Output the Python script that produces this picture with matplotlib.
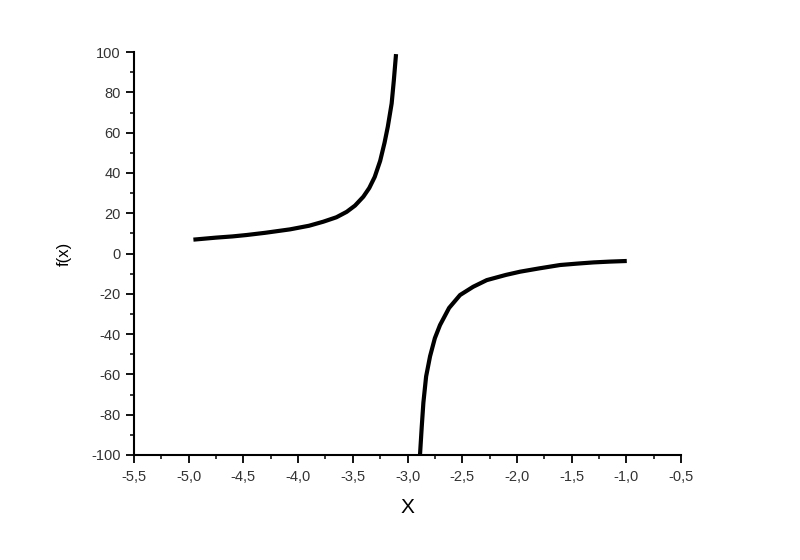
import matplotlib.pyplot as plt
from matplotlib.ticker import MultipleLocator, FuncFormatter

plt.rcParams['font.family'] = ['Liberation Sans', 'DejaVu Sans']

# valores
x_left = [-4.957, -4.75, -4.6, -4.47, -4.3, -4.074, -3.9, -3.77, -3.65, -3.556,
          -3.48, -3.404, -3.35, -3.3, -3.25, -3.21, -3.18, -3.145, -3.125, -3.105]
y_left = [6.9, 7.9, 8.5, 9.2, 10.3, 12.0, 13.8, 15.8, 18.0, 20.7,
          23.8, 28.2, 32.5, 38.0, 46.0, 55.0, 63.0, 74.5, 86.0, 99.0]

x_right = [-2.886, -2.87, -2.855, -2.83, -2.794, -2.75, -2.703, -2.62, -2.52,
           -2.4, -2.276, -2.1, -1.97, -1.8, -1.606, -1.45, -1.3, -1.15, -0.996]
y_right = [-100.0, -86.0, -74.0, -61.0, -51.0, -42.0, -35.5, -27.0, -20.6,
           -16.5, -13.2, -10.6, -9.0, -7.4, -5.7, -5.0, -4.4, -4.0, -3.7]

fig = plt.figure(figsize=(8, 5.6), dpi=100)
ax = fig.add_axes([0.1675, 0.1875, 0.6838, 0.7195])

ax.plot(x_left, y_left, color='black', lw=3, solid_capstyle='butt')
ax.plot(x_right, y_right, color='black', lw=3, solid_capstyle='butt')

ax.set_xlim(-5.5, -0.5)
ax.set_ylim(-100, 100)
ax.xaxis.set_major_locator(MultipleLocator(0.5))
ax.xaxis.set_minor_locator(MultipleLocator(0.25))
ax.yaxis.set_major_locator(MultipleLocator(20))
ax.yaxis.set_minor_locator(MultipleLocator(10))
ax.xaxis.set_major_formatter(FuncFormatter(lambda v, p: f'{v:.1f}'.replace('.', ',')))
ax.yaxis.set_major_formatter(FuncFormatter(lambda v, p: f'{v:.0f}'))

for s in ['top', 'right']:
    ax.spines[s].set_visible(False)
for s in ['left', 'bottom']:
    ax.spines[s].set_linewidth(1.5)

ax.tick_params(which='major', direction='out', length=6, width=1.3,
               labelsize=10.5, colors='black', labelcolor='#333333')
ax.tick_params(axis='x', which='major', pad=5)
ax.tick_params(which='minor', direction='out', length=3, width=1.1)

ax.set_xlabel('X', fontsize=15, labelpad=10)
ax.set_ylabel('f(x)', fontsize=12, labelpad=14)

fig.savefig('out.png', dpi=100)
